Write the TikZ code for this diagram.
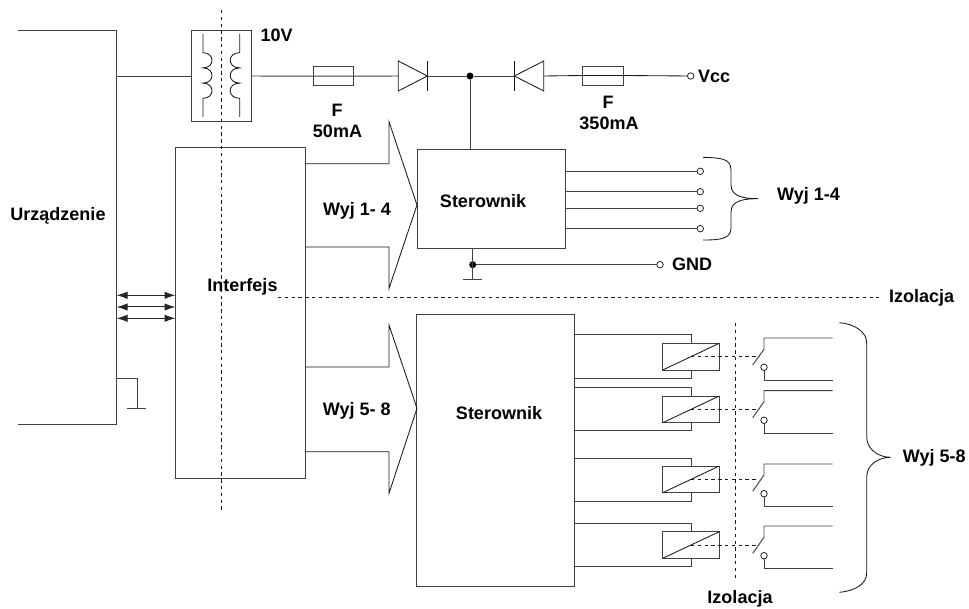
\documentclass[tikz,border=0pt]{standalone}
\usepackage{fontspec}
\setmainfont{Liberation Sans}
\usetikzlibrary{arrows.meta}
\tikzset{
  ln/.style={line width=0.95pt,draw=black!75},
  thin line/.style={line width=0.85pt,draw=black!90},
  box/.style={ln,rectangle,inner sep=0pt,outer sep=0pt,fill=none},
  dot/.style={circle,fill=black,draw=none,minimum size=7pt,inner sep=0pt,outer sep=0pt},
  pin/.style={circle,draw=black!85,line width=0.8pt,fill=white,minimum size=6.5pt,inner sep=0pt,outer sep=0pt},
  lab/.style={font=\fontsize{18}{20}\selectfont\bfseries,inner sep=0pt,text=black},
  iso/.style={line width=0.9pt,draw=black!90,dash pattern=on 3.4pt off 3.4pt},
  bus/.style={line width=1pt,draw=black!85,{Latex[length=11pt,width=7.5pt]}-{Latex[length=11pt,width=7.5pt]}},
}
\begin{document}
\begin{tikzpicture}[x=1pt,y=-1pt]
\useasboundingbox (0,0) rectangle (969,609);
% boxes
\node[box,minimum width=60.4pt,minimum height=91pt] (trafo) at (221.5,75.5) {};
\node[box,minimum width=129.5pt,minimum height=331pt] (iface) at (240.7,312.8) {};
\node[box,minimum width=148.3pt,minimum height=99.3pt] (ster1) at (491.2,198.7) {};
\node[box,minimum width=157.3pt,minimum height=272pt] (ster2) at (495.4,450) {};
\node[box,minimum width=40.7pt,minimum height=19pt] (fuse1) at (333.4,76.2) {};
\node[box,minimum width=41pt,minimum height=19pt] (fuse2) at (602.8,75.5) {};
% device outline
\coordinate (devTL) at (18,30);
\coordinate (devTR) at (116,30);
\coordinate (devBR) at (116,424);
\coordinate (devBL) at (18,424);
\draw[ln] (devTL) -- (devTR) -- (devBR) -- (devBL);
% transformer
\coordinate (devOut) at (116,76);
\draw[ln] (devOut) -- (trafo.west |- devOut);
\draw[thin line] (203,34) -- (203,52.7)
  .. controls (215,52.7) and (215,67.9) .. (203,67.9)
  .. controls (215,67.9) and (215,83.1) .. (203,83.1)
  .. controls (215,83.1) and (215,98.3) .. (203,98.3) -- (203,117);
\draw[thin line] (239.7,34) -- (239.7,52.7)
  .. controls (227,52.7) and (227,67.9) .. (239.7,67.9)
  .. controls (227,67.9) and (227,83.1) .. (239.7,83.1)
  .. controls (227,83.1) and (227,98.3) .. (239.7,98.3) -- (239.7,117);
% isolation lines
\coordinate (isoAtop) at (221,10);
\coordinate (isoAbot) at (221,512);
\draw[iso] (isoAtop) -- (isoAbot);
\coordinate (isoBl) at (278,297);
\coordinate (isoBr) at (879,297);
\draw[iso] (isoBl) -- (isoBr);
\coordinate (isoCt) at (735.7,323);
\coordinate (isoCb) at (735.7,578);
\draw[iso] (isoCt) -- (isoCb);
% top rail
\coordinate (d1base) at (398.3,76);
\coordinate (d1tip) at (427.3,76);
\coordinate (d2tip) at (514.3,76);
\coordinate (d2base) at (543.7,76);
\node[dot] (junc) at (470,76) {};
\node[pin] (vcc) at (690.7,76) {};
\draw[ln] (trafo.east |- devOut) -- (fuse1.west);
\draw[ln] (fuse1.west) -- (fuse1.east) -- (d1base);
\draw[thin line] (398.3,61) -- (398.3,91) -- (d1tip) -- cycle;
\draw[thin line] (427.3,61) -- (427.3,91);
\draw[ln] (d1tip) -- (junc) -- (d2tip);
\draw[thin line] (543.7,61) -- (543.7,91) -- (d2tip) -- cycle;
\draw[thin line] (514.3,61) -- (514.3,91);
\draw[thin line] (d2base) -- (fuse2.west) -- (fuse2.east) -- (vcc);
\draw[ln] (junc) -- (junc |- ster1.north);
% bus arrows
\draw[thin line] (305.7,163.7) -- (389,163.7) -- (389,121.7) -- (417,205) -- (389,288.5) -- (389,247) -- (305.7,247);
\draw[thin line] (305.7,367) -- (389,367) -- (389,325) -- (417,408.3) -- (389,493.3) -- (389,451.7) -- (305.7,451.7);
% outputs
\foreach \i/\y in {1/171.3,2/191.7,3/208.3,4/228.7}{
  \node[pin] (o\i) at (700.3,\y) {};
  \draw[ln] (ster1.east |- o\i) -- (o\i);
}
% ground
\coordinate (g1a) at (472.7,248.3);
\coordinate (g1b) at (472.7,279.3);
\node[dot] (gj) at (472.7,264.7) {};
\node[pin] (gnd) at (660,264.7) {};
\draw[ln] (g1a) -- (g1b);
\draw[ln] (gj) -- (gnd);
\draw[ln] (463,279.3) -- (482,279.3);
% left ground
\coordinate (lg0) at (116,378.7);
\coordinate (lg1) at (137.3,378.7);
\coordinate (lg2) at (137.3,408.7);
\draw[ln] (lg0) -- (lg1) -- (lg2);
\draw[ln] (127,408.7) -- (145.7,408.7);
% data bus
\foreach \y in {295.3,307,318.3}{
  \draw[bus] (116.5,\y) -- (175.5,\y);
}
% relays and contacts
\foreach \n/\lt/\lb/\bt/\bb/\mid/\st/\sa/\sb/\sc/\sd in {
  1/334.7/378/343.3/370/356.3/338/349.3/365/367.3/380.3,
  2/387.7/430.7/396/422.7/409.3/390.7/401.7/417.7/420.3/433,
  3/458/501/466/492.7/479.7/464/475/491.3/493.7/506.3,
  4/523/566.3/531.7/558.3/545/526/537.3/553.3/555.7/568}{
  \pgfmathsetmacro{\bh}{\bb-\bt}
  \pgfmathsetmacro{\bc}{(\bb+\bt)/2}
  \node[box,minimum width=56.6pt,minimum height=\bh pt] (rel\n) at (691,\bc) {};
  \draw[ln] (574,\lt) -- (691,\lt) -- (rel\n.north);
  \draw[ln] (rel\n.south) -- (691,\lb) -- (574,\lb);
  \draw[thin line] (rel\n.south west) -- (rel\n.north east);
  \node[pin] (c\n) at (764,\sc) {};
  \draw[ln] (832.7,\st) -- (764,\st) -- (764,\sa) -- (752.7,\sb);
  \draw[ln] (c\n) -- (764,\sd) -- (832.7,\sd);
  \draw[iso] (691,\mid) -- (759,\mid);
}
% braces
\draw[thin line] (703,157.3) .. controls (720,158) and (731,158) .. (731,170) -- (731,185)
  .. controls (731,197) and (745,198.7) .. (758.3,198.7)
  .. controls (745,198.7) and (731,200) .. (731,212) -- (731,228)
  .. controls (731,239) and (720,240) .. (703,240);
\draw[thin line] (839.3,322.7) .. controls (855,324) and (866.7,332) .. (866.7,343) -- (866.7,436.7)
  .. controls (866.7,449) and (878,457.3) .. (890.7,457.3)
  .. controls (878,457.3) and (866.7,465) .. (866.7,476.7) -- (866.7,573)
  .. controls (866.7,584) and (855,591) .. (839.3,592.3);
% labels
\node[lab] (tUrz) at (58,216) {Urządzenie};
\node[lab] (t10) at (276.7,35) {10V};
\node[lab] (tF1) at (337,110) {F};
\node[lab] (t50) at (337.5,131) {50mA};
\node[lab] (tF2) at (608,102) {F};
\node[lab] (t350) at (609,123) {350mA};
\node[lab,anchor=west] (tVcc) at (698,76) {Vcc};
\node[lab] (tS1) at (483,201) {Sterownik};
\node[lab,anchor=west] (tW14) at (777,196) {Wyj 1-4};
\node[lab] (tW1) at (357,211) {Wyj 1- 4};
\node[lab,anchor=west] (tGND) at (672,264.7) {GND};
\node[lab] (tInt) at (242.5,287) {Interfejs};
\node[lab,anchor=west] (tIso) at (889,298) {Izolacja};
\node[lab] (tW5) at (356.7,411) {Wyj 5- 8};
\node[lab] (tS2) at (499,413.5) {Sterownik};
\node[lab,anchor=west] (tW58) at (902.7,458) {Wyj 5-8};
\node[lab] (tIso2) at (740,599) {Izolacja};
\end{tikzpicture}
\end{document}
